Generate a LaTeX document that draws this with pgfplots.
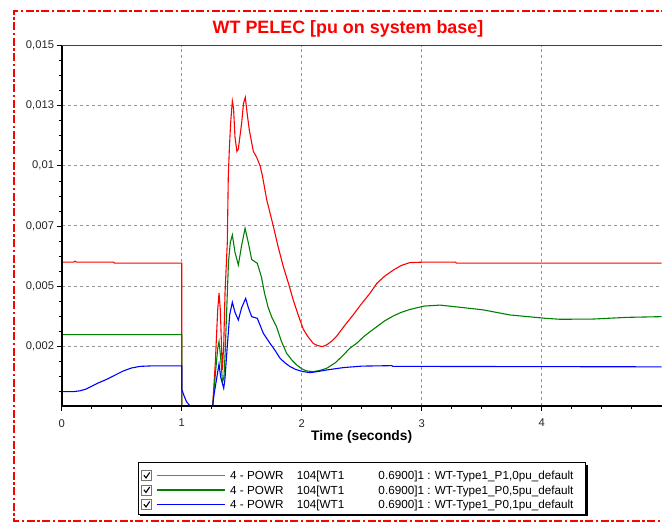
\documentclass[border=0pt]{standalone}
\usepackage{fontspec}
\setmainfont{Liberation Sans}
\usepackage{pgfplots}
\pgfplotsset{compat=1.18}
\definecolor{gridgray}{RGB}{150,150,150}
\definecolor{pgreen}{RGB}{0,128,0}
\definecolor{lred}{RGB}{255,60,60}
\definecolor{lgreen}{RGB}{0,128,0}
\definecolor{lblue}{RGB}{0,0,255}
\newcommand{\legtext}[1]{\makebox[66.7bp][l]{4 - POWR}\makebox[81.6bp][l]{104[WT1}0.6900]1 : WT-Type1\_#1pu\_default}
\newcommand{\legrow}[2]{% y-centre, label
  \draw[color=black!55, fill=white, line width=0.7bp] ([yshift=-5bp]141.7bp,#1) rectangle ([yshift=5bp]151.7bp,#1);
  \draw[color=black, line width=1.1bp] ([yshift=0.2bp]143.9bp,#1) -- ([yshift=-2.4bp]146bp,#1) -- ([yshift=3bp]149.7bp,#1);
  \node[anchor=base west, inner sep=0pt, font=\fontsize{11.7bp}{14bp}\selectfont] at ([yshift=-4.2bp]230bp,#1) {\legtext{#2}};
}
\begin{document}
\begin{tikzpicture}
\path[use as bounding box] (0,0) rectangle (662bp,523bp);
\begin{axis}[
  name=ax,
  at={(61.7bp,117bp)}, anchor=south west,
  scale only axis, width=600bp, height=360.3bp,
  xmin=0, xmax=5, ymin=0, ymax=0.015,
  axis line style={draw=none},
  tick pos=left, tick align=outside,
  major tick length=5bp, minor tick length=3bp,
  tick style={black, line width=0.6bp},
  xtick={0,1,2,3,4}, xticklabels={0,1,2,3,4},
  minor xtick={0.25,0.5,0.75,1.25,1.5,1.75,2.25,2.5,2.75,3.25,3.5,3.75,4.25,4.5,4.75},
  ytick={0.0025,0.005,0.0075,0.01,0.0125,0.015},
  yticklabels={{0,002},{0,005},{0,007},{0,01},{0,013},{0,015}},
  minor ytick={0.000625,0.00125,0.001875,0.003125,0.00375,0.004375,0.005625,0.00625,0.006875,0.008125,0.00875,0.009375,0.010625,0.01125,0.011875,0.013125,0.01375,0.014375},
  scaled y ticks=false,
  ticklabel style={font=\fontsize{11.2bp}{13bp}\selectfont, text=black!85},
  yticklabel style={inner sep=0pt, xshift=-2.5bp},
  xticklabel style={inner sep=0pt, yshift=-8bp},
  grid=major,
  major grid style={gridgray, line width=0.7bp, dash pattern=on 3bp off 3bp},
  xlabel={Time (seconds)},
  xlabel style={font=\fontsize{13.8bp}{16bp}\selectfont\bfseries, at={(axis description cs:0.5,-0.0971)}, anchor=base},
]
\addplot[color=red, line width=1.1bp] coordinates {
(0,0.00599)(0.10,0.00599)(0.11,0.00603)(0.125,0.00599)(0.43,0.00599)(0.44,0.00595)(1.0,0.00595)(1.0001,-0.0005)(1.25,-0.0005)(1.258,0)(1.28,0.0018)(1.30,0.0040)(1.311,0.0047)(1.322,0.0040)(1.338,0.0015)(1.35,0.0025)(1.361,0.0047)(1.38,0.0068)(1.388,0.0095)(1.397,0.0107)(1.408,0.0118)(1.422,0.0127)(1.432,0.0124)(1.444,0.0112)(1.46,0.0106)(1.472,0.0107)(1.50,0.0118)(1.515,0.0126)(1.53,0.01285)(1.545,0.0122)(1.563,0.0115)(1.597,0.0106)(1.625,0.01035)(1.653,0.0100)(1.672,0.0096)(1.708,0.0086)(1.763,0.0075)(1.80,0.0067)(1.847,0.0058)(1.89,0.0051)(1.93,0.0044)(1.97,0.0038)(2.013,0.0032)(2.05,0.0029)(2.097,0.0026)(2.13,0.00252)(2.172,0.00247)(2.21,0.00255)(2.25,0.0027)(2.29,0.0029)(2.35,0.0033)(2.43,0.0038)(2.49,0.0042)(2.57,0.0047)(2.625,0.0051)(2.69,0.0054)(2.764,0.00566)(2.83,0.00585)(2.90,0.00597)(3.02,0.00599)(3.28,0.00599)(3.29,0.00595)(5,0.00595)
};
\addplot[color=pgreen, line width=1.1bp] coordinates {
(0,0.00297)(1.0,0.00297)(1.0001,-0.0005)(1.25,-0.0005)(1.258,0)(1.28,0.0013)(1.30,0.0024)(1.311,0.00268)(1.325,0.0020)(1.34,0.0010)(1.352,0.0012)(1.362,0.0022)(1.375,0.0040)(1.39,0.0060)(1.405,0.0068)(1.422,0.00712)(1.444,0.0064)(1.472,0.00587)(1.50,0.0067)(1.528,0.0074)(1.555,0.0068)(1.583,0.0061)(1.63,0.00594)(1.664,0.00538)(1.69,0.0047)(1.719,0.00413)(1.75,0.0037)(1.79,0.0033)(1.83,0.0027)(1.875,0.00219)(1.92,0.0019)(1.958,0.00171)(2.0,0.00155)(2.04,0.00146)(2.097,0.00143)(2.15,0.00148)(2.208,0.00157)(2.28,0.0018)(2.347,0.00212)(2.40,0.0024)(2.458,0.00261)(2.52,0.0029)(2.569,0.00309)(2.625,0.0033)(2.69,0.00354)(2.764,0.00375)(2.83,0.0039)(2.902,0.00402)(3.02,0.00416)(3.153,0.0042)(3.32,0.00411)(3.514,0.0040)(3.736,0.00379)(4.033,0.00365)(4.153,0.00361)(4.43,0.00362)(4.708,0.00369)(5,0.00372)
};
\addplot[color=blue, line width=1.1bp] coordinates {
(0,0.0006)(0.1,0.0006)(0.15,0.00063)(0.2,0.0007)(0.24,0.0008)(0.3,0.00095)(0.375,0.00111)(0.45,0.0013)(0.514,0.00146)(0.58,0.00158)(0.653,0.00165)(0.75,0.00167)(1.0,0.00167)(1.0001,0.0007)(1.02,0.00042)(1.04,0.00018)(1.07,0)(1.1,-0.0003)(1.24,-0.0003)(1.258,0)(1.27,0.0005)(1.29,0.0011)(1.311,0.00175)(1.325,0.0012)(1.35,0.00074)(1.36,0.0011)(1.38,0.0025)(1.40,0.0038)(1.422,0.00432)(1.444,0.0039)(1.472,0.00358)(1.50,0.0041)(1.533,0.00448)(1.555,0.0041)(1.583,0.00372)(1.63,0.00365)(1.68,0.00303)(1.736,0.00261)(1.78,0.0023)(1.819,0.00199)(1.86,0.0018)(1.903,0.00164)(1.95,0.00152)(2.013,0.00143)(2.069,0.00139)(2.13,0.00143)(2.208,0.0015)(2.35,0.0016)(2.50,0.00166)(2.75,0.00168)(2.76,0.00165)(5,0.00163)
};
\end{axis}
\draw[black!75, line width=0.8bp] (ax.north west) -- (ax.north east);
\draw[black, line width=1.8bp] (ax.north west) -- (ax.south west) -- (ax.south east);
% legend box with shadow
\fill[black] (140.3bp,6.5bp) rectangle (587.6bp,58.3bp);
\draw[black, fill=white, line width=0.6bp] (138.3bp,8.7bp) rectangle (585.4bp,60.3bp);
\legrow{47.5bp}{P1,0}
\legrow{33bp}{P0,5}
\legrow{18.5bp}{P0,1}
\node[font=\fontsize{17.9bp}{20bp}\selectfont\bfseries, text=red, anchor=base] at (348bp,489bp) {WT PELEC [pu on system base]};
\draw[red, line width=2.2bp, dash pattern=on 8bp off 2.5bp on 2.5bp off 2.5bp] (700bp,512bp) -- (14bp,512bp) -- (14bp,2bp) -- (700bp,2bp);
% legend sample lines
\draw[lred, line width=1.4bp] (156.7bp,47.5bp) -- (225bp,47.5bp);
\draw[lgreen, line width=1.3bp] (156.7bp,33bp) -- (225bp,33bp);
\draw[lblue, line width=1.3bp] (156.7bp,18.5bp) -- (225bp,18.5bp);
\end{tikzpicture}
\end{document}
